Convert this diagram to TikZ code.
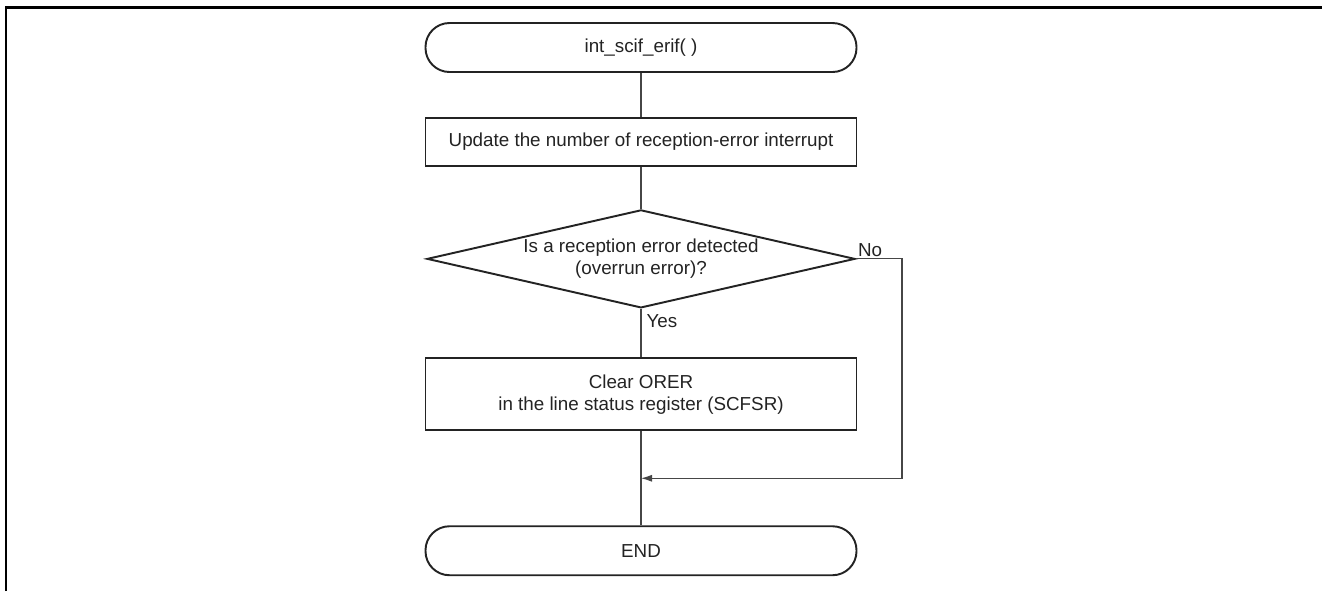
\documentclass[tikz,border=0pt]{standalone}
\usepackage{fontspec}
\setmainfont{Liberation Sans}
\usepackage{tikz}
\usetikzlibrary{shapes.geometric, arrows.meta, positioning, calc}
\definecolor{mydark}{RGB}{35,35,35}
\definecolor{mygray}{RGB}{70,70,70}
\tikzset{
  termblock/.style={rectangle, draw=mydark, text=mydark,
    minimum width=8.62cm, minimum height=0.98cm, rounded corners=0.48cm,
    font=\fontsize{10.7}{12.5}\selectfont, line width=1.1pt},
  procblock/.style={rectangle, draw=mydark, text=mydark,
    minimum width=8.62cm, minimum height=0.96cm, align=center,
    font=\fontsize{10.7}{12.5}\selectfont, line width=1.1pt},
  decblock/.style={diamond, draw=mydark, text=mydark, aspect=4.37,
    minimum width=8.56cm, minimum height=1.96cm, inner sep=1pt, align=center,
    font=\fontsize{10.7}{12.5}\selectfont, line width=1.1pt},
  lbl/.style={text=mydark, font=\fontsize{10.7}{12.5}\selectfont, inner sep=1pt},
  line/.style={line width=0.6pt, color=mygray},
  arrow/.style={-{Latex[length=2.2mm,width=1.4mm]}, line width=0.6pt, color=mygray}
}
\begin{document}
\begin{tikzpicture}[node distance=0.9cm]
  \useasboundingbox (0,0) rectangle (26.46,-11.82);
  % frame
  \draw[line width=1.7pt] (0.12,-11.82) -- (0.12,-0.14) -- (26.44,-0.14);
  \node[termblock] (start) at (12.82,-0.95) {int\_scif\_erif( )};
  \node[procblock, below=0.88cm of start] (count) {Update the number of reception-error interrupt};
  \node[decblock, below=0.84cm of count] (ovr) {Is a reception error detected\\(overrun error)?};
  \node[procblock, minimum height=1.44cm, below=0.97cm of ovr] (clr) {Clear ORER\\in the line status register (SCFSR)};
  \node[termblock, below=1.88cm of clr] (end) {END};
  \coordinate (merge) at ($(clr.south)!0.5!(end.north)$);
  \coordinate (noside) at (18.04,0 |- ovr.east);
  \node[lbl, anchor=south west] (no) at (ovr.east) {No};
  \node[lbl, anchor=north west, xshift=2pt, yshift=-2pt] (yes) at (ovr.south) {Yes};
  \draw[line] (start) -- (count);
  \draw[line] (count) -- (ovr);
  \draw[line] (ovr) -- (clr);
  \draw[line] (clr) -- (end);
  \draw[arrow] (ovr.east) -- (noside) |- (merge);
\end{tikzpicture}
\end{document}
